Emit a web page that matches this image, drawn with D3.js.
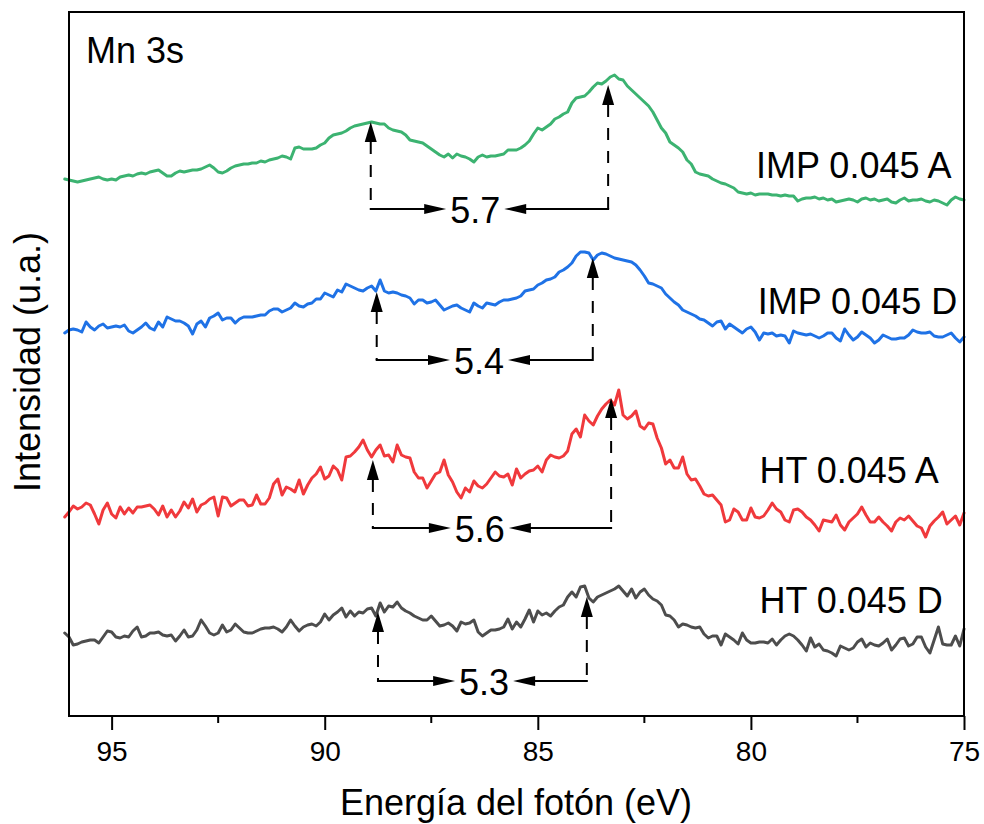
<!DOCTYPE html>
<html>
<head>
<meta charset="utf-8">
<script src="https://cdn.jsdelivr.net/npm/d3@7"></script>
<style>
  body { margin: 0; background: #fff; }
  svg { font-family: "Liberation Sans", Arial, sans-serif; }
  .frame { fill: none; stroke: #000; stroke-width: 2; }
  .spectrum { fill: none; stroke-width: 3; stroke-linejoin: round; stroke-linecap: round; }
</style>
</head>
<body>
<svg id="svg" width="984" height="824"></svg>
<script>
// Energía del fotón: de 96.1 eV a 75.0 eV, paso 0.1 eV
const startEnergy = 96.1;
const stepEnergy = 0.1;

// Intensidades (u.a.) ya desplazadas verticalmente, una por muestra
const impA = [
  537,536,535,534,535, 536,537,538,539,537, 536,537,536,539,540, 541,540,542,543,542,
  544,545,546,543,540, 540,543,545,544,545, 546,546,547,549,551, 548,544,543,545,548,
  550,551,552,552,553, 553,555,554,556,557, 558,560,559,557,568, 569,567,567,567,568,
  571,573,578,581,582, 583,585,588,590,591, 592,593,594,593,592, 592,588,586,585,584,
  581,576,575,574,573, 570,567,564,561,559, 562,558,562,560,559, 557,554,559,561,559,
  560,560,561,562,566, 566,566,568,571,575, 582,588,586,589,592, 597,599,602,604,613,
  618,619,620,624,629, 633,632,635,639,641, 637,636,630,626,622, 618,614,610,604,596,
  588,583,574,571,568, 564,556,552,544,542, 541,540,537,535,533, 532,530,528,524,523,
  522,523,521,522,522, 522,521,521,520,521, 520,520,515,517,518, 518,519,517,518,516,
  517,514,515,516,517, 516,514,517,518,516, 517,515,516,517,514, 513,516,518,515,516,
  516,517,515,514,516, 515,513,511,516,519, 517,516
];
const impD = [
  383,386,387,386,384, 394,389,386,390,392, 388,389,390,389,391, 385,383,386,389,393,
  388,386,394,389,399, 397,395,395,393,390, 382,392,395,389,398, 400,403,396,398,398,
  393,397,399,399,399, 400,401,401,405,407, 407,404,406,408,413, 410,409,412,413,417,
  417,423,421,419,426, 424,432,430,428,426, 425,428,430,425,436, 425,423,424,423,421,
  420,418,412,416,416, 413,414,416,411,406, 408,410,411,408,406, 404,413,410,408,413,
  412,411,414,416,416, 417,418,420,425,426, 427,431,433,436,437, 439,444,446,449,453,
  460,464,464,463,456, 461,463,462,460,458, 457,456,455,454,451, 446,440,433,432,430,
  428,422,418,414,411, 406,404,402,400,397, 396,393,390,394,395, 387,392,389,386,383,
  387,389,384,376,383, 382,383,380,381,380, 373,385,383,382,381, 382,380,378,380,383,
  383,378,375,387,381, 376,379,384,381,378, 373,376,381,379,377, 377,378,378,381,386,
  384,383,383,384,380, 379,379,381,383,378, 374,379
];
const htA = [
  199,204,210,207,209, 213,211,202,192,206, 213,202,198,209,202, 208,203,209,209,210,
  211,207,201,210,199, 206,199,205,214,208, 217,204,211,213,217, 219,200,219,218,210,
  213,216,216,210,211, 221,212,212,218,232, 237,221,229,227,224, 236,222,231,238,242,
  249,237,240,250,246, 236,259,260,264,269, 276,266,259,266,271, 260,261,254,271,261,
  259,258,244,238,238, 228,235,242,244,256, 241,234,224,218,228, 224,235,230,228,232,
  238,244,240,239,242, 231,247,238,242,245, 246,250,244,256,261, 259,258,260,265,282,
  287,279,301,295,291, 300,307,312,316,311, 326,301,297,300,305, 290,287,293,292,278,
  268,252,256,248,248, 259,242,236,237,230, 222,220,221,216,211, 194,196,207,204,196,
  196,208,199,198,200, 206,213,207,204,196, 194,206,207,204,199, 196,191,185,196,195,
  194,201,191,186,194, 198,202,209,201,194, 194,199,194,190,185, 194,198,196,200,195,
  190,188,179,190,195, 199,204,192,196,200, 191,203
];
const htD = [
  83,79,71,72,74, 75,76,76,73,79, 85,84,79,78,80, 79,85,89,79,80,
  83,83,84,81,80, 81,75,80,86,79, 80,86,96,90,83, 81,83,91,84,86,
  92,88,84,83,83, 85,87,88,88,89, 87,84,89,96,90, 85,89,91,92,90,
  94,102,96,101,104, 108,99,105,100,104, 103,107,108,100,113, 104,110,109,114,108,
  105,103,100,98,96, 96,100,95,90,91, 93,90,85,94,92, 93,96,84,80,83,
  86,86,87,89,97, 87,94,89,97,106, 94,105,101,103,100, 105,109,111,119,124,
  119,129,130,118,114, 119,121,123,125,127, 130,125,120,127,118, 124,127,121,117,115,
  111,101,100,96,89, 92,91,89,88,89, 82,78,80,80,71, 82,79,76,72,83,
  76,73,73,74,74, 73,77,71,76,80, 82,80,76,71,65, 78,69,72,66,65,
  63,60,70,68,66, 68,74,77,69,73, 71,70,73,77,66, 71,77,78,70,72,
  79,79,69,63,76, 89,72,71,71,80, 70,87
];

const seriesNames = ["IMP 0.045 A", "IMP 0.045 D", "HT 0.045 A", "HT 0.045 D"];
const seriesValues = [impA, impD, htA, htD];
const seriesColors = ["#3cb371", "#1f72e6", "#f0393c", "#4d4d4d"];
const labelEnergy = [79.88, 79.84, 79.8, 79.8];
const labelLevel = [538, 402, 233, 103];

// Separación de picos: energía de cada pico, punta de la flecha y nivel de la cota
const splitLabels = ["5.7", "5.4", "5.6", "5.3"];
const peakLowE = [88.92, 88.78, 88.87, 88.75];
const peakHighE = [83.35, 83.71, 83.28, 83.85];
const tipLow = [594, 424, 256, 104];
const tipHigh = [631, 458, 318, 119];
const barLevel = [507, 356, 188, 35];
const splitTextE = [86.47, 86.38, 86.36, 86.26];

const majorTicks = [95, 90, 85, 80, 75];
const minorTicks = [92.5, 87.5, 82.5, 77.5];

const svg = d3.select("#svg");
const plotLeft = 69, plotRight = 964, plotTop = 12, plotBottom = 716;

const x = d3.scaleLinear().domain([96, 75]).range([plotLeft, plotRight]);
const y = d3.scaleLinear().domain([0, 704]).range([plotBottom, plotTop]);

const energies = impA.map((d, i) => +(startEnergy - stepEnergy * i).toFixed(1));

// Curvas
const line = d3.line()
  .x((d, i) => x(energies[i]))
  .y(d => y(d));

svg.selectAll("path.spectrum")
  .data(seriesValues)
  .enter()
  .append("path")
  .attr("class", "spectrum")
  .attr("stroke", (d, i) => seriesColors[i])
  .attr("d", line);

// Marco
svg.append("rect")
  .attr("class", "frame")
  .attr("x", plotLeft)
  .attr("y", plotTop)
  .attr("width", plotRight - plotLeft)
  .attr("height", plotBottom - plotTop);

// Eje X
const xAxis = svg.append("g")
  .attr("transform", `translate(0,${plotBottom})`)
  .call(d3.axisBottom(x).tickValues(majorTicks).tickSize(14).tickPadding(11).tickFormat(d3.format("d")));
xAxis.select(".domain").remove();
xAxis.selectAll(".tick line").attr("stroke-width", 2);
xAxis.selectAll(".tick text")
  .attr("font-size", 28)
  .attr("font-family", "Liberation Sans, Arial, sans-serif");

svg.append("g")
  .selectAll("line")
  .data(minorTicks)
  .enter()
  .append("line")
  .attr("x1", d => x(d))
  .attr("x2", d => x(d))
  .attr("y1", plotBottom)
  .attr("y2", plotBottom + 7)
  .attr("stroke", "#000")
  .attr("stroke-width", 2);

// Títulos
svg.append("text")
  .attr("x", 516)
  .attr("y", 815)
  .attr("text-anchor", "middle")
  .attr("font-size", 36)
  .text("Energía del fotón (eV)");

svg.append("text")
  .attr("transform", "translate(40,362) rotate(-90)")
  .attr("text-anchor", "middle")
  .attr("font-size", 36)
  .text("Intensidad (u.a.)");

svg.append("text")
  .attr("x", 86)
  .attr("y", 63)
  .attr("font-size", 36)
  .text("Mn 3s");

// Etiquetas de serie
svg.selectAll("text.series-label")
  .data(seriesNames)
  .enter()
  .append("text")
  .attr("class", "series-label")
  .attr("x", (d, i) => x(labelEnergy[i]))
  .attr("y", (d, i) => y(labelLevel[i]))
  .attr("font-size", 36)
  .text(d => d);

// Cotas de separación
const gap = 29;
splitLabels.forEach((lab, i) => {
  const g = svg.append("g");
  const xl = x(peakLowE[i]), xh = x(peakHighE[i]);
  const yb = y(barLevel[i]);
  const xc = x(splitTextE[i]);

  [[xl, y(tipLow[i])], [xh, y(tipHigh[i])]].forEach(([px, py]) => {
    g.append("path")
      .attr("d", `M${px},${py}L${px - 6},${py + 20}L${px + 6},${py + 20}Z`)
      .attr("fill", "#000");
    g.append("line")
      .attr("x1", px).attr("x2", px)
      .attr("y1", py + 20).attr("y2", yb)
      .attr("stroke", "#000")
      .attr("stroke-width", 2)
      .attr("stroke-dasharray", "12,11");
  });

  // flechas horizontales hacia el número
  const tipL = xc - gap, tipR = xc + gap;
  g.append("line")
    .attr("x1", xl - 1).attr("x2", tipL - 18)
    .attr("y1", yb).attr("y2", yb)
    .attr("stroke", "#000").attr("stroke-width", 2);
  g.append("path")
    .attr("d", `M${tipL},${yb}L${tipL - 22},${yb - 5}L${tipL - 22},${yb + 5}Z`)
    .attr("fill", "#000");
  g.append("line")
    .attr("x1", tipR + 18).attr("x2", xh + 1)
    .attr("y1", yb).attr("y2", yb)
    .attr("stroke", "#000").attr("stroke-width", 2);
  g.append("path")
    .attr("d", `M${tipR},${yb}L${tipR + 22},${yb - 5}L${tipR + 22},${yb + 5}Z`)
    .attr("fill", "#000");

  g.append("text")
    .attr("x", xc)
    .attr("y", yb + 14)
    .attr("text-anchor", "middle")
    .attr("font-size", 36)
    .text(lab);
});
</script>
</body>
</html>
